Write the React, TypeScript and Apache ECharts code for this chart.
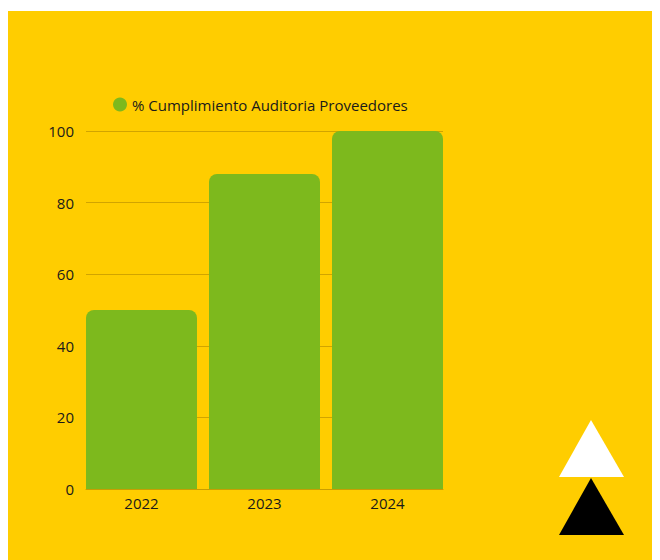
import React, { useEffect, useRef } from "react";
import * as echarts from "echarts";

const categories = ["2022", "2023", "2024"];
const values = [50, 88, 100];
const seriesName = "% Cumplimiento Auditoria Proveedores";
const yTicks = [0, 20, 40, 60, 80, 100];

export default function App() {
  const ref = useRef<HTMLDivElement>(null);
  useEffect(() => {
    if (!ref.current) return;
    const chart = echarts.init(ref.current, null, { renderer: "svg" });
    const font = "'Open Sans', sans-serif";
    chart.setOption({
      animation: false,
      backgroundColor: "#FFCD00",
      legend: {
        data: [seriesName],
        left: 100,
        top: 81,
        icon: "circle",
        itemWidth: 14,
        itemHeight: 14,
        textStyle: { color: "#1a1a1a", fontSize: 15, fontFamily: font },
      },
      grid: [
        { left: 78, right: 217, top: 120, bottom: 71 },
        { left: 72, right: 211, top: 120, bottom: 71 },
      ],
      xAxis: [
        {
          gridIndex: 0,
          type: "value",
          min: 0,
          max: 1,
          axisLine: { show: true, lineStyle: { color: "#C99E00", width: 1 } },
          axisTick: { show: false },
          axisLabel: { show: false },
          splitLine: { show: false },
        },
        {
          gridIndex: 1,
          type: "category",
          data: categories,
          axisLine: { show: false },
          axisTick: { show: false },
          axisLabel: { color: "#1a1a1a", fontSize: 15, fontFamily: font, margin: 6 },
        },
      ],
      yAxis: [
        {
          gridIndex: 0,
          type: "value",
          min: yTicks[0],
          max: yTicks[yTicks.length - 1],
          interval: 20,
          axisLine: { show: false },
          axisTick: { show: false },
          axisLabel: { color: "#1a1a1a", fontSize: 15, fontFamily: font, margin: 12 },
          splitLine: { show: true, lineStyle: { color: "#D1A400", width: 1 } },
        },
        {
          gridIndex: 1,
          type: "value",
          min: 0,
          max: 100,
          show: false,
        },
      ],
      series: [
        {
          name: seriesName,
          type: "bar",
          xAxisIndex: 1,
          yAxisIndex: 1,
          data: values,
          barWidth: 111,
          itemStyle: { color: "#7DB91D", borderRadius: [8, 8, 0, 0] },
          z: 3,
        },
      ],
      graphic: [
        {
          type: "polygon",
          shape: { points: [[583, 409], [551, 466], [616, 466]] },
          style: { fill: "#FFFFFF" },
        },
        {
          type: "polygon",
          shape: { points: [[583, 467], [551, 524], [616, 524]] },
          style: { fill: "#000000" },
        },
      ],
    });
    return () => chart.dispose();
  }, []);
  return (
    <div style={{ paddingTop: 3 }}>
      <div ref={ref} style={{ width: 652, height: 549 }} />
    </div>
  );
}
